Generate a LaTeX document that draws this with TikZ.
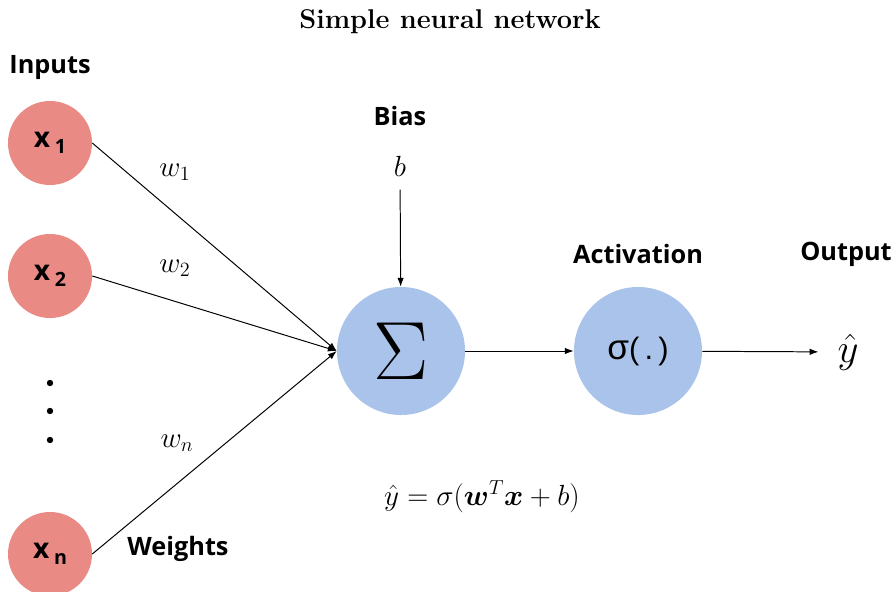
\documentclass[tikz,border=0pt]{standalone}
\usepackage{amsmath,bm,graphicx}
\usepackage{fontspec}
\newfontfamily\lblfont{Open Sans}
\newfontfamily\sigfont{Liberation Sans}
\usetikzlibrary{arrows.meta}
\definecolor{inred}{HTML}{E98A85}
\definecolor{unitblue}{HTML}{A9C3EA}
\tikzset{
  input/.style={circle, fill=inred, minimum size=2.1cm, inner sep=0pt,
    font=\lblfont\bfseries\fontsize{20}{22}\selectfont},
  unit/.style={circle, fill=unitblue, minimum size=3.2cm, inner sep=0pt},
  head/.style={font=\lblfont\bfseries\fontsize{18}{20}\selectfont},
  mathlbl/.style={font=\fontsize{19.5}{22}\selectfont},
  dotmark/.style={circle, fill=black, minimum size=0.16cm, inner sep=0pt},
  flow/.style={line width=0.7pt, -{Latex[length=2.2mm,width=1.6mm]}}
}
\begin{document}
\begin{tikzpicture}[x=0.025cm, y=-0.025cm]
  \useasboundingbox (0,0) rectangle (896,592);
  \node[font=\bfseries\fontsize{19.3}{22}\selectfont] (title) at (450,22) {Simple neural network};
  \node[input] (x1) at (50,143) {x\,{\fontsize{14}{16}\selectfont\raisebox{-0.6ex}{1}}};
  \node[input] (x2) at (50,276) {x\,{\fontsize{14}{16}\selectfont\raisebox{-0.6ex}{2}}};
  \node[input] (xn) at (50,554) {x\,{\fontsize{14}{16}\selectfont\raisebox{-0.6ex}{n}}};
  \node[dotmark] (d1) at (50,383) {};
  \node[dotmark] (d2) at (50,411) {};
  \node[dotmark] (d3) at (50,440) {};
  \node[unit] (sum) at (401,351) {\fontsize{17}{20}\selectfont\scalebox{3.4}{$\Sigma$}};
  \node[unit] (act) at (638,351) {\sigfont\fontsize{22}{24}\selectfont{\fontsize{25}{26}\selectfont σ}(\,.\,)};
  \node[mathlbl] (bias) at (400,166) {$b$};
  \node[mathlbl] (out) at (848,352) {\scalebox{1.4}{$\hat{y}$}};
  \node[head] (lin) at (50,68) {Inputs};
  \node[head] (lbias) at (400,116) {Bias};
  \node[head] (lact) at (638,254) {Activation};
  \node[head] (lout) at (846,254) {Output};
  \node[head] (lwt) at (178,549) {Weights};
  \node[mathlbl] (w1) at (175,172) {$w_1$};
  \node[mathlbl] (w2) at (175,268) {$w_2$};
  \node[mathlbl] (wn) at (177,443) {$w_n$};
  \node[mathlbl] (eq) at (482,497) {$\hat{y} = \sigma(\bm{w}^T\bm{x} + b)$};
  \begin{scope}[flow]
    \draw (x1.east) to (sum.west);
    \draw (x2.east) to (sum.west);
    \draw (xn.east) to (sum.west);
    \draw[shorten <=6pt] (bias) to (sum);
    \draw (sum) to (act);
    \draw[shorten >=10pt] (act) to (out);
  \end{scope}
\end{tikzpicture}
\end{document}
